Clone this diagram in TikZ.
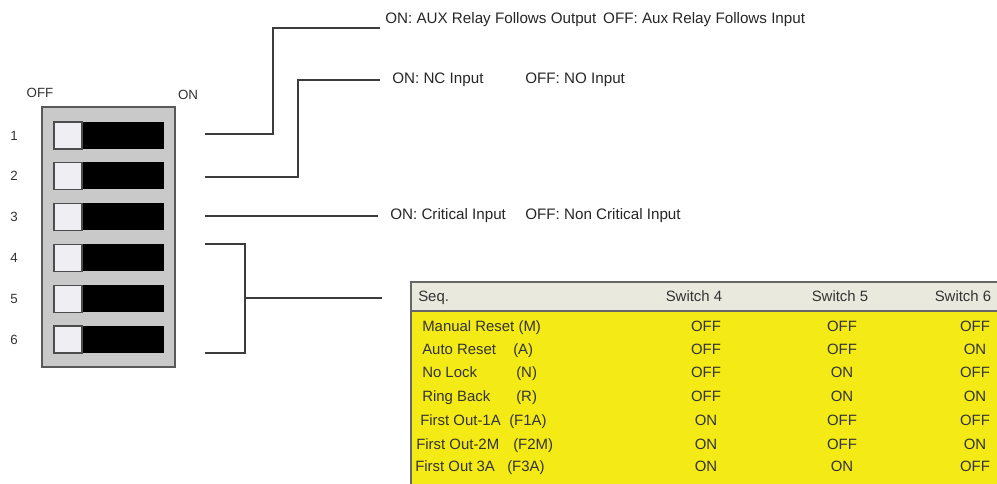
\documentclass[tikz,border=0pt]{standalone}
\usepackage{fontspec}
\setmainfont{Liberation Sans}
\usetikzlibrary{positioning}
\definecolor{dipgray}{HTML}{C9C9C9}
\definecolor{padwhite}{HTML}{EFEFF3}
\definecolor{seqyellow}{HTML}{F4EA16}
\definecolor{headbeige}{HTML}{E9E9DE}
\definecolor{wiregray}{HTML}{3C3C3C}
\tikzset{
  body/.style={draw=black!65, line width=1.2pt, fill=dipgray},
  pad/.style={draw=black!70, line width=0.8pt, fill=padwhite},
  dipl/.style={font=\fontsize{10}{12}\selectfont, text=black!80, inner sep=0pt},
  note/.style={font=\fontsize{11.4}{13}\selectfont, text=black!85, inner sep=0pt, anchor=base west},
  cell/.style={font=\fontsize{11.2}{13}\selectfont, text=black!80, inner sep=0pt},
  wire/.style={draw=wiregray, line width=1.1pt},
  grid/.style={draw=black!60, line width=1.3pt},
}
\begin{document}
\begin{tikzpicture}[x=0.75pt,y=-0.75pt]
  \useasboundingbox (0,0) rectangle (997,484);
  % ---- DIP switch ----
  \draw[body] (42,107) rectangle (175,367);
  \node[dipl] (off) at (40,93) {OFF};
  \node[dipl] (on) at (188,95) {ON};
  \foreach \i/\y in {1/135.5,2/176,3/217,4/258,5/299,6/339.5} {
    \fill[black] (82,\y-13.5) rectangle (164,\y+13.5);
    \draw[pad] (54,\y-13.5) rectangle (82,\y+13.5);
    \node[dipl] (n\i) at (14,\y) {\i};
  }

  % ---- leads ----
  \coordinate (w1) at (205,134);  \coordinate (k1) at (273,28);  \coordinate (e1) at (380,28);
  \coordinate (w2) at (205,177);  \coordinate (k2) at (298,80);  \coordinate (e2) at (380,80);
  \coordinate (w3) at (205,216);  \coordinate (e3) at (378,216);
  \coordinate (w4) at (205,244);  \coordinate (k4) at (245,244);
  \coordinate (w6) at (205,353);  \coordinate (k6) at (245,353);
  \coordinate (m5) at (245,298);  \coordinate (e5) at (382,298);
  \draw[wire] (w1) -| (k1) -- (e1);
  \draw[wire] (w2) -| (k2) -- (e2);
  \draw[wire] (w3) -- (e3);
  \draw[wire] (w4) -- (k4) -- (k6) -- (w6);
  \draw[wire] (m5) -- (e5);
  \node[note] (t1) at (385,23.5) {ON: AUX Relay Follows Output\ \,OFF: Aux Relay Follows Input};
  \node[note] (t2) at (392,83.5) {ON: NC Input};
  \node[note] (t2off) at (525,83.5) {OFF: NO Input};
  \node[note] (t3) at (390,219.5) {ON: Critical Input};
  \node[note] (t3off) at (525,219.5) {OFF: Non Critical Input};

  % ---- sequence table ----
  \fill[headbeige] (411,282) rectangle (997,311);
  \fill[seqyellow] (411,311) rectangle (997,484);
  \draw[grid] (997,282) -- (411,282) -- (411,484);
  \draw[grid] (411,311) -- (997,311);
  \node[cell, anchor=base west] (hseq) at (418,302) {Seq.};
  \node[cell, anchor=base] (hs4) at (694,302) {Switch 4};
  \node[cell, anchor=base] (hs5) at (840,302) {Switch 5};
  \node[cell, anchor=base] (hs6) at (963,302) {Switch 6};
  \foreach \nm/\xn/\tg/\xt/\yy/\a/\b/\c [count=\r] in {
      Manual Reset (M)/422//513/327/OFF/OFF/OFF,
      Auto Reset/422/(A)/513/350/OFF/OFF/ON,
      No Lock/422/(N)/516/373/OFF/ON/OFF,
      Ring Back/422/(R)/516/397/OFF/ON/ON,
      First Out-1A/420/(F1A)/509/421/ON/OFF/OFF,
      First Out-2M/416/(F2M)/513/445/ON/OFF/ON,
      First Out 3A/415/(F3A)/507/467/ON/ON/OFF} {
    \node[cell, anchor=base west] (seq\r) at (\xn,\yy+5) {\nm};
    \node[cell, anchor=base west] (tag\r) at (\xt,\yy+5) {\tg};
    \node[cell, anchor=base] (sa\r) at (706,\yy+5) {\a};
    \node[cell, anchor=base] (sb\r) at (842,\yy+5) {\b};
    \node[cell, anchor=base] (sc\r) at (975,\yy+5) {\c};
  }
\end{tikzpicture}
\end{document}
